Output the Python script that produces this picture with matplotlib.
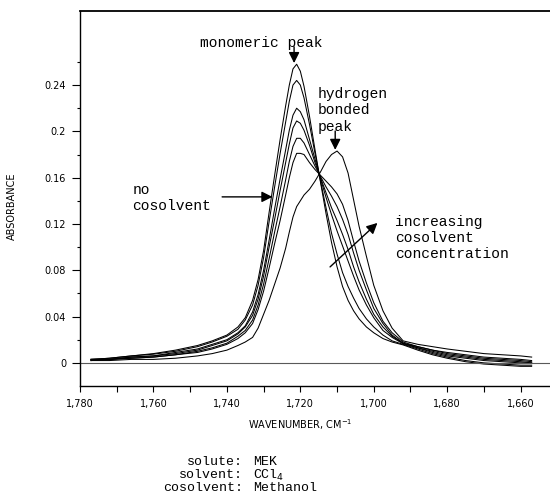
import matplotlib
matplotlib.use("Agg")
import matplotlib.pyplot as plt
from matplotlib.ticker import FixedLocator, FixedFormatter

# numero de onda (cm-1), comun a todas las curvas
numero_onda = [1777, 1772, 1766, 1760, 1754, 1748, 1744, 1740, 1737, 1735,
               1733, 1731.5, 1730, 1728.5, 1727, 1725.5, 1724, 1723, 1722, 1721,
               1720, 1719, 1717.5, 1716, 1714.5, 1713, 1711.5, 1710, 1708.5, 1707,
               1705.5, 1704, 1702, 1700, 1697.5, 1695, 1692, 1688, 1684, 1680,
               1675, 1670, 1665, 1660, 1657]

# absorbancia: c0 = sin cosolvente ... c6 = mayor concentracion de metanol
abs_c0 = [.003, .004, .006, .008, .011, .015, .019, .024, .031, .039,
          .054, .072, .097, .130, .162, .193, .222, .240, .254, .258,
          .252, .239, .213, .184, .156, .129, .104, .083, .066, .054,
          .045, .038, .031, .026, .021, .018, .0155, .011, .007, .004,
          .001, -.001, -.002, -.003, -.003]
abs_c1 = [.003, .004, .006, .0075, .010, .014, .018, .023, .029, .037,
          .050, .067, .091, .122, .152, .181, .208, .226, .240, .244,
          .240, .229, .206, .181, .157, .134, .112, .094, .078, .066,
          .056, .047, .038, .031, .024, .019, .016, .012, .008, .005,
          .002, .000, -.001, -.002, -.002]
abs_c2 = [.003, .003, .005, .006, .009, .012, .016, .020, .026, .032,
          .044, .059, .080, .106, .133, .159, .184, .201, .214, .220,
          .217, .210, .193, .176, .159, .143, .128, .114, .101, .088,
          .075, .063, .050, .039, .028, .022, .0165, .013, .009, .006,
          .004, .002, .001, .000, .000]
abs_c3 = [.003, .003, .005, .006, .008, .011, .015, .019, .025, .031,
          .041, .055, .075, .100, .124, .149, .173, .189, .203, .209,
          .207, .201, .188, .173, .160, .147, .134, .123, .111, .098,
          .083, .070, .055, .042, .031, .023, .017, .013, .010, .007,
          .005, .003, .002, .001, .000]
abs_c4 = [.002, .003, .004, .005, .007, .010, .013, .017, .023, .028,
          .037, .050, .068, .090, .113, .135, .158, .174, .187, .194,
          .194, .190, .180, .170, .161, .152, .144, .135, .124, .111,
          .095, .080, .063, .047, .034, .024, .017, .014, .011, .008,
          .006, .004, .003, .002, .001]
abs_c5 = [.002, .003, .004, .005, .007, .009, .012, .016, .021, .026,
          .034, .046, .062, .082, .103, .123, .145, .160, .173, .181,
          .181, .180, .173, .167, .162, .157, .152, .146, .137, .123,
          .105, .088, .069, .052, .036, .026, .018, .014, .011, .009,
          .007, .005, .004, .003, .002]
abs_c6 = [.002, .002, .003, .003, .004, .006, .008, .011, .015, .018,
          .022, .030, .042, .054, .068, .082, .099, .113, .126, .135,
          .140, .145, .150, .157, .165, .174, .180, .183, .178, .164,
          .141, .118, .092, .067, .045, .030, .019, .016, .014, .012,
          .010, .008, .007, .006, .005]
curvas = [abs_c0, abs_c1, abs_c2, abs_c3, abs_c4, abs_c5, abs_c6]

# ejes
ticks_x = [1780, 1760, 1740, 1720, 1700, 1680, 1660]
etiquetas_x = ["1,780", "1,760", "1,740", "1,720", "1,700", "1,680", "1,660"]
ticks_x_menores = [1770, 1750, 1730, 1710, 1690, 1670]
ticks_y = [0, 0.04, 0.08, 0.12, 0.16, 0.2, 0.24]
etiquetas_y = ["0", "0.04", "0.08", "0.12", "0.16", "0.2", "0.24"]
ticks_y_menores = [0.02, 0.06, 0.10, 0.14, 0.18, 0.22, 0.26]

# condiciones del experimento
condiciones = [("solute:", "MEK"), ("solvent:", "CCl$_4$"), ("cosolvent:", "Methanol")]

mono = "Liberation Mono"

fig = plt.figure(figsize=(5.5, 5.04), dpi=100)
ax = fig.add_axes([0.1455, 0.2341, 0.8545, 0.7441])

for curva in curvas:
    ax.plot(numero_onda, curva, color="black", linewidth=0.75)

ax.axhline(0, color="0.35", linewidth=0.8)

ax.set_xlim(1780, 1652)
ax.set_ylim(-0.02, 0.304)

ax.spines["right"].set_visible(False)
ax.spines["top"].set_linewidth(1.3)
ax.spines["left"].set_linewidth(1.0)
ax.spines["bottom"].set_linewidth(1.0)

ax.xaxis.set_major_locator(FixedLocator(ticks_x))
ax.xaxis.set_major_formatter(FixedFormatter(etiquetas_x))
ax.xaxis.set_minor_locator(FixedLocator(ticks_x_menores))
ax.yaxis.set_major_locator(FixedLocator(ticks_y))
ax.yaxis.set_major_formatter(FixedFormatter(etiquetas_y))
ax.yaxis.set_minor_locator(FixedLocator(ticks_y_menores))

ax.tick_params(axis="x", which="both", direction="out", length=4.3, width=0.8,
               labelsize=7, pad=5)
ax.tick_params(axis="y", which="major", direction="out", length=5.5, width=0.8,
               labelsize=7, pad=4.5)
ax.tick_params(axis="y", which="minor", direction="out", length=2.5, width=0.8)

# anotaciones
flecha = dict(arrowstyle="-|>", color="black", lw=1.0, mutation_scale=16,
              shrinkA=0, shrinkB=0)

ax.text(1747.4, 0.2763, "monomeric peak", family=mono, fontsize=10.5, va="center")
ax.annotate("", xy=(1721.7, 0.259), xytext=(1721.7, 0.273), arrowprops=flecha)

for i, palabra in enumerate(["hydrogen", "bonded", "peak"]):
    ax.text(1715.4, 0.2323 - i * 0.0142, palabra, family=mono, fontsize=10.5, va="center")
ax.annotate("", xy=(1710.5, 0.184), xytext=(1710.5, 0.2003), arrowprops=flecha)

ax.text(1765.7, 0.1494, "no", family=mono, fontsize=10.5, va="center")
ax.text(1765.7, 0.1356, "cosolvent", family=mono, fontsize=10.5, va="center")
ax.annotate("", xy=(1727.6, 0.1434), xytext=(1741.3, 0.1434), arrowprops=flecha)

for i, palabra in enumerate(["increasing", "cosolvent", "concentration"]):
    ax.text(1694.1, 0.1218 - i * 0.0139, palabra, family=mono, fontsize=10.5, va="center")
ax.annotate("", xy=(1699.0, 0.1209), xytext=(1711.9, 0.0829), arrowprops=flecha)

# titulos de ejes
fig.text(0.545, 1 - 425 / 504, "WAVENUMBER, CM$^{-1}$", fontsize=7, ha="center", va="center")
fig.text(0.022, 1 - 206 / 504, "ABSORBANCE", fontsize=7, rotation=90, ha="center", va="center")

# bloque de texto inferior
for i, (etiqueta, valor) in enumerate(condiciones):
    y = 1 - (462 + i * 13) / 504
    fig.text(243 / 550, y, etiqueta, family=mono, fontsize=9.5, ha="right", va="center")
    fig.text(253 / 550, y, valor, family=mono, fontsize=9.5, ha="left", va="center")

fig.savefig("out.png", dpi=100)
